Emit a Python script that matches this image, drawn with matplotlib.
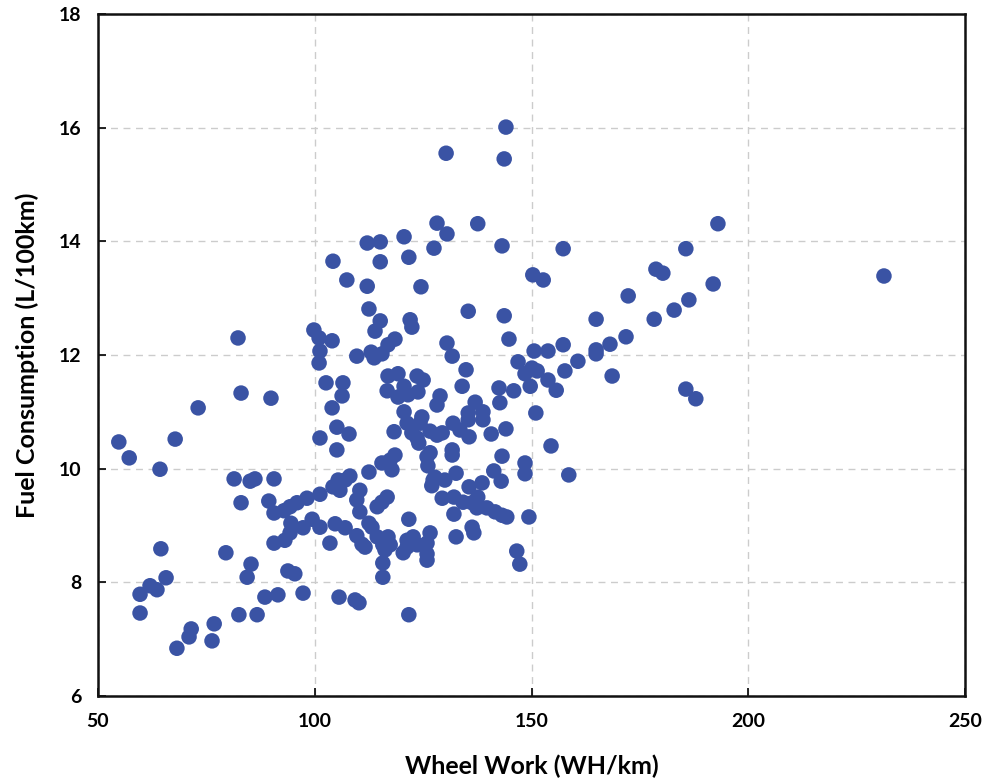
import matplotlib.pyplot as plt

# wheel work (WH/km) and fuel consumption (L/100km)
wheel_work = [54.8, 57.2, 59.7, 59.7, 62.0, 63.6, 64.3, 64.5, 65.7, 67.8,
              68.2, 71.0, 71.5, 73.1, 76.3, 76.8, 79.5, 81.4, 82.3, 82.5,
              83.0, 83.0, 84.4, 85.1, 85.3, 86.2, 86.7, 88.5, 89.4, 89.9,
              90.6, 90.6, 90.6, 91.5, 92.9, 93.1, 93.8, 94.3, 94.5, 94.3,
              95.4, 95.9, 97.3, 97.3, 98.2, 99.4, 99.8, 101.0, 101.2, 101.2,
              101.2, 101.0, 101.2, 102.6, 103.5, 104.0, 104.2, 104.0, 104.2, 104.7,
              105.1, 105.1, 105.6, 105.8, 105.4, 106.3, 106.5, 107.0, 107.4, 107.0,
              107.9, 108.1, 109.3, 109.7, 109.7, 109.7, 110.2, 110.4, 110.4, 110.9,
              111.6, 112.1, 112.1, 112.5, 112.5, 112.5, 113.0, 113.2, 113.7, 113.9,
              114.4, 114.4, 115.1, 115.1, 115.1, 115.5, 115.5, 115.5, 115.7, 115.7,
              115.7, 116.2, 116.7, 116.7, 116.9, 116.9, 116.9, 117.4, 117.4, 117.8,
              118.3, 118.5, 118.5, 119.2, 119.2, 120.6, 120.6, 120.4, 120.6, 121.3,
              121.3, 121.5, 121.7, 121.7, 121.7, 122.0, 122.4, 122.4, 122.7, 121.3,
              123.6, 123.6, 123.6, 123.8, 124.0, 124.5, 124.7, 125.0, 124.3, 125.9,
              125.9, 125.9, 126.1, 126.6, 126.6, 126.6, 125.9, 127.0, 127.3, 127.5,
              127.7, 128.2, 128.2, 128.2, 128.9, 129.4, 129.4, 130.0, 130.3, 130.5,
              130.5, 131.7, 131.7, 131.7, 131.9, 132.1, 132.1, 132.6, 132.6, 133.5,
              134.0, 134.2, 134.9, 135.4, 135.4, 135.4, 135.6, 135.6, 136.3, 136.3,
              136.7, 137.0, 137.4, 137.6, 137.6, 138.6, 138.8, 138.8, 139.7, 140.7,
              141.3, 141.6, 142.5, 142.7, 143.0, 143.2, 143.2, 143.2, 143.7, 143.7,
              144.1, 144.1, 144.3, 144.8, 145.9, 146.6, 146.9, 147.3, 148.5, 148.5,
              148.5, 149.4, 149.7, 150.1, 150.3, 150.6, 151.0, 151.3, 152.7, 153.8,
              153.8, 154.5, 155.7, 157.3, 157.3, 157.7, 158.6, 160.7, 164.9, 164.9,
              164.9, 168.1, 168.6, 171.8, 172.3, 178.3, 178.7, 180.3, 182.9, 185.6,
              185.6, 186.3, 187.9, 191.9, 193.0, 231.3]
fuel = [10.47, 10.19, 7.79, 7.46, 7.94, 7.87, 9.99, 8.59, 8.08, 10.52,
        6.84, 7.04, 7.18, 11.07, 6.97, 7.27, 8.52, 9.82, 12.30, 7.43,
        11.33, 9.40, 8.09, 9.78, 8.32, 9.82, 7.43, 7.74, 9.43, 11.24,
        9.82, 8.69, 9.22, 7.78, 9.26, 8.74, 8.20, 9.33, 9.04, 8.87,
        8.15, 9.40, 7.81, 8.96, 9.48, 9.11, 12.44, 12.30, 8.97, 9.55,
        12.07, 11.86, 10.54, 11.51, 8.69, 11.07, 13.65, 12.25, 9.68, 9.03,
        10.73, 10.33, 7.74, 9.62, 9.80, 11.28, 11.51, 9.80, 13.32, 8.96,
        10.61, 9.87, 7.69, 11.98, 9.45, 8.82, 7.64, 9.62, 9.24, 8.67,
        8.62, 13.97, 13.21, 12.81, 9.94, 9.04, 12.05, 8.97, 11.95, 12.42,
        8.80, 9.33, 13.99, 13.64, 12.60, 12.02, 10.10, 9.41, 8.34, 8.09,
        8.66, 8.57, 9.50, 11.37, 11.63, 12.18, 8.80, 8.66, 10.15, 9.98,
        10.65, 12.28, 10.24, 11.67, 11.26, 14.08, 11.45, 8.52, 11.00, 10.80,
        8.74, 11.30, 13.72, 9.11, 7.43, 12.62, 12.49, 10.63, 8.80, 8.62,
        11.63, 10.54, 8.66, 11.35, 10.45, 13.20, 10.91, 11.56, 10.80, 10.21,
        8.50, 8.39, 10.05, 10.28, 8.87, 10.66, 8.69, 9.70, 9.80, 13.88,
        9.85, 14.32, 11.12, 10.59, 11.28, 10.63, 9.48, 9.80, 15.55, 14.13,
        12.21, 11.98, 10.33, 10.24, 10.80, 9.50, 9.20, 9.92, 8.80, 10.68,
        11.45, 9.41, 11.74, 12.77, 10.98, 10.86, 10.56, 9.68, 9.40, 8.97,
        8.87, 11.17, 9.31, 14.31, 9.50, 9.75, 11.00, 10.86, 9.31, 10.61,
        9.96, 9.24, 11.42, 11.16, 9.78, 13.92, 10.22, 9.18, 15.45, 12.69,
        16.01, 10.70, 9.15, 12.28, 11.37, 8.55, 11.88, 8.32, 10.10, 9.91,
        11.67, 9.15, 11.45, 11.77, 13.41, 12.07, 10.98, 11.72, 13.32, 12.07,
        11.56, 10.40, 11.38, 13.87, 12.18, 11.72, 9.89, 11.89, 12.63, 12.09,
        12.02, 12.19, 11.63, 12.32, 13.04, 12.63, 13.51, 13.44, 12.79, 13.87,
        11.40, 12.97, 11.23, 13.25, 14.31, 13.39]

x_ticks = [50, 100, 150, 200, 250]
y_ticks = [6, 8, 10, 12, 14, 16, 18]

plt.rcParams['font.family'] = ['Lato', 'DejaVu Sans']

fig = plt.figure(figsize=(9.83, 7.78), dpi=100)
ax = fig.add_axes([0.0997, 0.1054, 0.882, 0.8766])

ax.scatter(wheel_work, fuel, s=125, color='#3a53a4', edgecolors='none', zorder=3)

ax.set_xlim(50, 250)
ax.set_ylim(6, 18)
ax.set_xticks(x_ticks)
ax.set_yticks(y_ticks)
ax.grid(True, linestyle=(0, (5, 4)), color='#cccccc', linewidth=1.0, zorder=0)
ax.tick_params(direction='in', length=6, width=1.2, labelsize=14, pad=12)
for lbl in ax.get_xticklabels() + ax.get_yticklabels():
    lbl.set_fontweight('bold')
for sp in ax.spines.values():
    sp.set_linewidth(1.8)
    sp.set_color('#111111')

ax.set_xlabel('Wheel Work (WH/km)', fontsize=18, fontweight='bold', labelpad=18)
ax.set_ylabel('Fuel Consumption (L/100km)', fontsize=18, fontweight='bold', labelpad=14)

fig.savefig('out.png', dpi=100)
